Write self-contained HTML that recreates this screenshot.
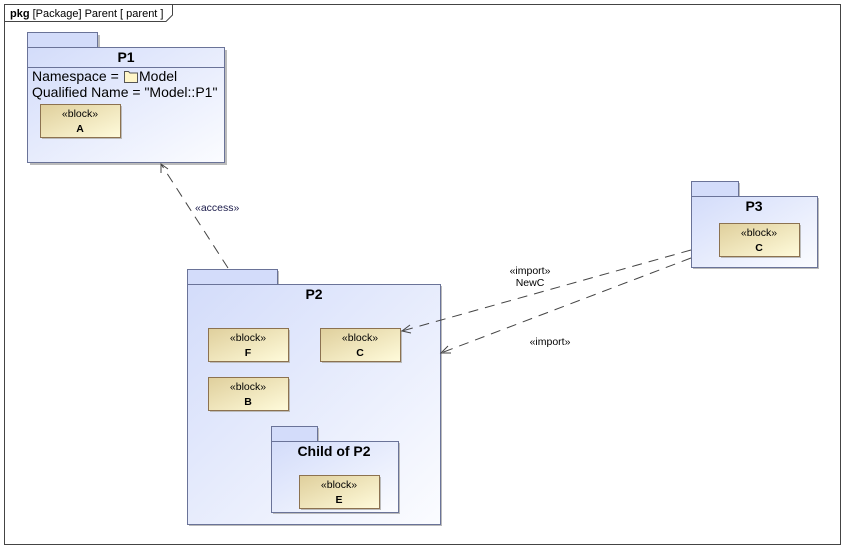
<!DOCTYPE html>
<html><head><meta charset="utf-8"><style>
html,body{margin:0;padding:0;background:#fff;}
svg{display:block;}
text{font-family:"Liberation Sans",Arial,sans-serif;}
</style></head><body>
<svg width="843" height="550" viewBox="0 0 843 550" xmlns="http://www.w3.org/2000/svg">
<defs>
<linearGradient id="pk" x1="0" y1="0" x2="1" y2="1">
<stop offset="0" stop-color="#d3dcfa"/><stop offset="1" stop-color="#fbfcff"/></linearGradient>
<linearGradient id="bl" x1="0" y1="0" x2="1" y2="1">
<stop offset="0" stop-color="#dfcf9c"/><stop offset="1" stop-color="#fffbdb"/></linearGradient>
</defs>
<rect x="4.5" y="4.5" width="836" height="540" fill="#fff" stroke="#444" stroke-width="1"/>
<path d="M4.5 21.5 H166 L172.5 15 V4.5" fill="none" stroke="#444"/>
<text x="10" y="17" font-size="11"><tspan font-weight="bold">pkg</tspan> [Package] Parent [ parent ]</text>

<!-- P1 -->
<g>
<rect x="30" y="35" width="70" height="15" fill="#bbb"/>
<rect x="30" y="50" width="197" height="115" fill="#bbb"/>
<rect x="27.5" y="32.5" width="70" height="15" fill="#d3dcfa" stroke="#6a7398"/>
<rect x="27.5" y="47.5" width="197" height="115" fill="url(#pk)" stroke="#6a7398"/>
<line x1="27.5" y1="67.5" x2="224.5" y2="67.5" stroke="#6a7398"/>
<text x="126" y="62" font-size="14" font-weight="bold" text-anchor="middle">P1</text>
<text x="32" y="81" font-size="14">Namespace = </text>
<path d="M124.5 71.5 h4 l1.5 1.5 h7.5 v9.5 h-13 z" fill="#fff6c8" stroke="#555"/>
<text x="139" y="81" font-size="14">Model</text>
<text x="32" y="97" font-size="14">Qualified Name = "Model::P1"</text>
</g>

<!-- blocks -->
<g font-size="10.5">
<rect x="42" y="106" width="80" height="33" fill="#bbb"/>
<rect x="40.5" y="104.5" width="80" height="33" fill="url(#bl)" stroke="#8c7250"/>
<text x="80" y="117" text-anchor="middle">«block»</text>
<text x="80" y="132" text-anchor="middle" font-weight="bold">A</text>
</g>

<!-- P2 -->
<rect x="189" y="271" width="90" height="15" fill="#bbb"/>
<rect x="189" y="286" width="253" height="240" fill="#bbb"/>
<rect x="187.5" y="269.5" width="90" height="15" fill="#d3dcfa" stroke="#6a7398"/>
<rect x="187.5" y="284.5" width="253" height="240" fill="url(#pk)" stroke="#6a7398"/>
<text x="314" y="299" font-size="14" font-weight="bold" text-anchor="middle">P2</text>

<g font-size="10.5">
<rect x="210" y="330" width="80" height="33" fill="#bbb"/>
<rect x="208.5" y="328.5" width="80" height="33" fill="url(#bl)" stroke="#8c7250"/>
<text x="248" y="341" text-anchor="middle">«block»</text>
<text x="248" y="356" text-anchor="middle" font-weight="bold">F</text>
<rect x="322" y="330" width="80" height="33" fill="#bbb"/>
<rect x="320.5" y="328.5" width="80" height="33" fill="url(#bl)" stroke="#8c7250"/>
<text x="360" y="341" text-anchor="middle">«block»</text>
<text x="360" y="356" text-anchor="middle" font-weight="bold">C</text>
<rect x="210" y="379" width="80" height="33" fill="#bbb"/>
<rect x="208.5" y="377.5" width="80" height="33" fill="url(#bl)" stroke="#8c7250"/>
<text x="248" y="390" text-anchor="middle">«block»</text>
<text x="248" y="405" text-anchor="middle" font-weight="bold">B</text>
</g>

<!-- Child of P2 -->
<rect x="273" y="428" width="46" height="15" fill="#bbb"/>
<rect x="273" y="443" width="127" height="71" fill="#bbb"/>
<rect x="271.5" y="426.5" width="46" height="15" fill="#d3dcfa" stroke="#6a7398"/>
<rect x="271.5" y="441.5" width="127" height="71" fill="url(#pk)" stroke="#6a7398"/>
<text x="334" y="456" font-size="14" font-weight="bold" text-anchor="middle">Child of P2</text>
<g font-size="10.5">
<rect x="301" y="477" width="80" height="33" fill="#bbb"/>
<rect x="299.5" y="475.5" width="80" height="33" fill="url(#bl)" stroke="#8c7250"/>
<text x="339" y="488" text-anchor="middle">«block»</text>
<text x="339" y="503" text-anchor="middle" font-weight="bold">E</text>
</g>

<!-- P3 -->
<rect x="693" y="183" width="47" height="15" fill="#bbb"/>
<rect x="693" y="198" width="126" height="71" fill="#bbb"/>
<rect x="691.5" y="181.5" width="47" height="15" fill="#d3dcfa" stroke="#6a7398"/>
<rect x="691.5" y="196.5" width="126" height="71" fill="url(#pk)" stroke="#6a7398"/>
<text x="754" y="211" font-size="14" font-weight="bold" text-anchor="middle">P3</text>
<g font-size="10.5">
<rect x="721" y="225" width="80" height="33" fill="#bbb"/>
<rect x="719.5" y="223.5" width="80" height="33" fill="url(#bl)" stroke="#8c7250"/>
<text x="759" y="236" text-anchor="middle">«block»</text>
<text x="759" y="251" text-anchor="middle" font-weight="bold">C</text>
</g>

<!-- connectors -->
<g stroke="#444" fill="none" stroke-width="1">
<line x1="228" y1="268" x2="161" y2="164" stroke-dasharray="10,7"/>
<path d="M161 173 L161 164 L168 169"/>
<line x1="691" y1="250" x2="402" y2="331" stroke-dasharray="10,7"/>
<path d="M410 325 L402 331 L411 333"/>
<line x1="691" y1="258" x2="441" y2="353" stroke-dasharray="10,7"/>
<path d="M448 346 L441 353 L451 353"/>
</g>
<text x="195" y="211" font-size="10.5" fill="#1a1a4a">«access»</text>
<text x="530" y="274" font-size="10.5" text-anchor="middle">«import»</text>
<text x="530" y="286" font-size="10.5" text-anchor="middle">NewC</text>
<text x="550" y="345" font-size="10.5" text-anchor="middle">«import»</text>
</svg>
</body></html>
